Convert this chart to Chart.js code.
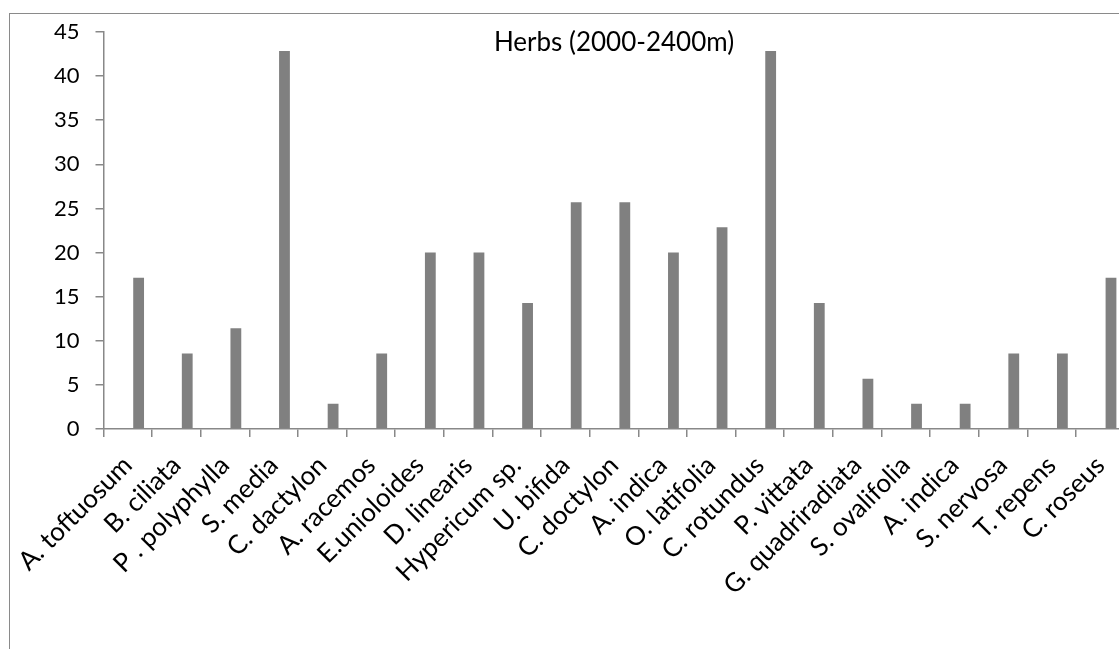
<!DOCTYPE html>
<html>
<head>
<meta charset="utf-8">
<script src="https://cdn.jsdelivr.net/npm/chart.js@4/dist/chart.umd.min.js"></script>
<style>
  html, body { margin: 0; padding: 0; background: #fff; overflow: hidden; }
  #frame {
    position: absolute; left: 9px; top: 13px;
    width: 2000px; height: 2000px;
    border-top: 1.5px solid #8a8a8a; border-left: 1.5px solid #8a8a8a;
  }
  #chart { position: absolute; left: 0; top: 0; }
</style>
</head>
<body>
<div id="frame"></div>
<canvas id="chart" width="1140" height="649"></canvas>
<script>
// Species recorded in the 2000-2400 m band
const species = [
  'A. toftuosum', 'B. ciliata', 'P . polyphylla', 'S. media', 'C. dactylon',
  'A. racemos', 'E.unioloides', 'D. linearis', 'Hypericum sp.', 'U. bifida',
  'C. doctylon', 'A. indica', 'O. latifolia', 'C. rotundus', 'P. vittata',
  'G. quadriradiata', 'S. ovalifolia', 'A. indica', 'S. nervosa', 'T. repens',
  'C. roseus'
];

// Frequency (%) per species
const frequency = [
  17.14, 8.57, 11.43, 42.86, 2.86,
  8.57, 20, 20, 14.29, 25.71,
  25.71, 20, 22.86, 42.86, 14.29,
  5.71, 2.86, 2.86, 8.57, 8.57,
  17.14
];

const yTicks = [0, 5, 10, 15, 20, 25, 30, 35, 40, 45];
const chartTitle = 'Herbs (2000-2400m)';

const axisGrey = '#888888';
const barGrey = '#808080';
const fontFamily = 'Lato, "Open Sans", sans-serif';

// Title sits inside the plot area, centred over it
const insideTitle = {
  id: 'insideTitle',
  afterDraw(chart) {
    const { ctx, chartArea } = chart;
    ctx.save();
    ctx.font = '26px ' + fontFamily;
    ctx.fillStyle = '#000';
    ctx.textAlign = 'center';
    ctx.textBaseline = 'alphabetic';
    ctx.fillText(chartTitle, (chartArea.left + chartArea.right) / 2, chartArea.top + 18.5);
    ctx.restore();
  }
};

new Chart(document.getElementById('chart'), {
  type: 'bar',
  data: {
    labels: species,
    datasets: [
      // the plotted series takes the third of three clustered slots
      { label: 'slot 1', data: [] },
      { label: 'slot 2', data: [] },
      { label: 'Herbs', data: frequency, backgroundColor: barGrey, borderWidth: 0 }
    ]
  },
  options: {
    responsive: false,
    animation: false,
    categoryPercentage: 0.667,
    barPercentage: 1,
    layout: { padding: { top: 32, right: 15.5, left: 0, bottom: 0 } },
    plugins: { legend: { display: false }, tooltip: { enabled: false }, title: { display: false } },
    scales: {
      x: {
        grid: { display: true, drawOnChartArea: false, drawTicks: true, tickLength: 8,
                color: axisGrey, lineWidth: 1.5, offset: true },
        border: { display: true, color: axisGrey, width: 1.5 },
        ticks: {
          autoSkip: false, minRotation: 45, maxRotation: 45, padding: 13,
          color: '#000', font: { family: fontFamily, size: 26 }
        },
        afterFit(scale) { scale.height = 220; }
      },
      y: {
        min: 0, max: 45,
        afterBuildTicks(scale) { scale.ticks = yTicks.map(v => ({ value: v })); },
        grid: { display: true, drawOnChartArea: false, drawTicks: true, tickLength: 8,
                color: axisGrey, lineWidth: 1.5 },
        border: { display: true, color: axisGrey, width: 1.5 },
        ticks: { padding: 16, color: '#000', font: { family: fontFamily, size: 22 } },
        afterFit(scale) { scale.width = 103.5; }
      }
    }
  },
  plugins: [insideTitle]
});
</script>
</body>
</html>
